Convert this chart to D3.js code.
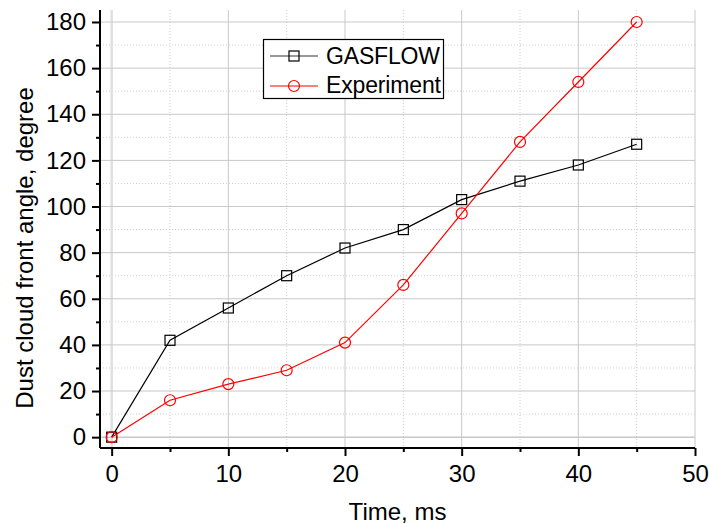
<!DOCTYPE html>
<html><head><meta charset="utf-8">
<script src="https://cdn.jsdelivr.net/npm/d3@7"></script>
<style>body{margin:0;background:#fff}svg{display:block}text{font-family:"Liberation Sans",Arial,sans-serif;fill:#000}</style>
</head><body><svg width="709" height="524"></svg>
<script>
const times = [0,5,10,15,20,25,30,35,40,45];
const gasflow = [0,42,56,70,82,90,103,111,118,127];
const experiment = [0,16,23,29,41,66,97,128,154,180];
const xTicks = [0,10,20,30,40,50];
const yTicks = [0,20,40,60,80,100,120,140,160,180];
const xMinor = [5,15,25,35,45];
const yMinor = [10,30,50,70,90,110,130,150,170];
const seriesNames = ["GASFLOW","Experiment"];

const FS = "24px";
const svg = d3.select("svg");
const L=100, R=695, T=10, B=448;
const x = d3.scaleLinear().domain([-1,50]).range([L,R]);
const y = d3.scaleLinear().domain([-4.7,185.2]).range([B,T]);

const g = svg.append("g");
// minor grid
g.selectAll(".mx").data(xMinor).enter().append("line")
 .attr("x1",d=>x(d)).attr("x2",d=>x(d)).attr("y1",T).attr("y2",B)
 .attr("stroke","#d0d0d0").attr("stroke-width",1).attr("stroke-dasharray","1,2");
g.selectAll(".my").data(yMinor).enter().append("line")
 .attr("x1",L).attr("x2",R).attr("y1",d=>y(d)).attr("y2",d=>y(d))
 .attr("stroke","#d0d0d0").attr("stroke-width",1).attr("stroke-dasharray","1,2");
// major grid
g.selectAll(".Mx").data(xTicks).enter().append("line")
 .attr("x1",d=>x(d)).attr("x2",d=>x(d)).attr("y1",T).attr("y2",B)
 .attr("stroke",d=>d===0?"#e0e0e0":"#c8c8c8").attr("stroke-width",d=>d===0?2.5:1);
g.selectAll(".My").data(yTicks).enter().append("line")
 .attr("x1",L).attr("x2",R).attr("y1",d=>y(d)).attr("y2",d=>y(d))
 .attr("stroke","#c8c8c8").attr("stroke-width",d=>d===0?1.5:1);

// axes
const xAxis = d3.axisBottom(x).tickValues(xTicks).tickSize(8).tickPadding(9);
const xAxisMinor = d3.axisBottom(x).tickValues(xMinor).tickSize(4).tickFormat("");
const yAxis = d3.axisLeft(y).tickValues(yTicks).tickSize(8).tickPadding(6);
const yAxisMinor = d3.axisLeft(y).tickValues(yMinor).tickSize(4).tickFormat("");
function style(sel){
  sel.select(".domain").attr("stroke","#000").attr("stroke-width",2);
  sel.selectAll(".tick line").attr("stroke","#000").attr("stroke-width",2);
  sel.selectAll("text").style("font-size",FS).attr("font-family","Liberation Sans, Arial, sans-serif").attr("fill","#000");
}
const ga = svg.append("g").attr("transform",`translate(0,${B})`);
ga.call(xAxis).call(style);
svg.append("g").attr("transform",`translate(0,${B})`).call(xAxisMinor).call(style).select(".domain").remove();
ga.select(".domain").attr("d",`M${L},0H${R}`);
const gy = svg.append("g").attr("transform",`translate(${L},0)`);
gy.call(yAxis).call(style);
svg.append("g").attr("transform",`translate(${L},0)`).call(yAxisMinor).call(style).select(".domain").remove();
gy.select(".domain").attr("d",`M0,${B}V${T}`);

// lines
const data1 = times.map((t,i)=>[t,gasflow[i]]);
const data2 = times.map((t,i)=>[t,experiment[i]]);
const line = d3.line().x(d=>x(d[0])).y(d=>y(d[1]));
svg.append("path").datum(data1).attr("d",line).attr("fill","none").attr("stroke","#000").attr("stroke-width",1.2);
svg.append("path").datum(data2).attr("d",line).attr("fill","none").attr("stroke","#ff0000").attr("stroke-width",1.2);
svg.selectAll(".sq").data(data1).enter().append("rect")
 .attr("x",d=>x(d[0])-5).attr("y",d=>y(d[1])-5).attr("width",10).attr("height",10)
 .attr("fill","none").attr("stroke","#000").attr("stroke-width",1.2);
svg.selectAll(".ci").data(data2).enter().append("circle")
 .attr("cx",d=>x(d[0])).attr("cy",d=>y(d[1])).attr("r",5.5)
 .attr("fill","none").attr("stroke","#ff0000").attr("stroke-width",1.2);

// legend
const lg = svg.append("g");
lg.append("rect").attr("x",263.5).attr("y",39.5).attr("width",180).attr("height",59)
 .attr("fill","#fff").attr("stroke","#000").attr("stroke-width",1.2);
const ly = [56, 86];
lg.append("line").attr("x1",270).attr("x2",318).attr("y1",ly[0]).attr("y2",ly[0]).attr("stroke","#333").attr("stroke-width",1.2);
lg.append("rect").attr("x",289).attr("y",ly[0]-5).attr("width",10).attr("height",10).attr("fill","none").attr("stroke","#000").attr("stroke-width",1.2);
lg.append("line").attr("x1",270).attr("x2",318).attr("y1",ly[1]).attr("y2",ly[1]).attr("stroke","#ff0000").attr("stroke-width",1.2);
lg.append("circle").attr("cx",294).attr("cy",ly[1]).attr("r",5.5).attr("fill","none").attr("stroke","#ff0000").attr("stroke-width",1.2);
lg.selectAll(".lt").data(seriesNames).enter().append("text")
 .attr("x",326).attr("y",(d,i)=>[63.5,92.5][i]).style("font-size","23px").attr("textLength",d=>d==="GASFLOW"?114:115).text(d=>d);

// titles
svg.append("text").attr("x",(L+R)/2).attr("y",520).attr("text-anchor","middle").style("font-size",FS).text("Time, ms");
svg.append("text").attr("transform","translate(33,248) rotate(-90)").attr("text-anchor","middle").style("font-size",FS).text("Dust cloud front angle, degree");
</script></body></html>
